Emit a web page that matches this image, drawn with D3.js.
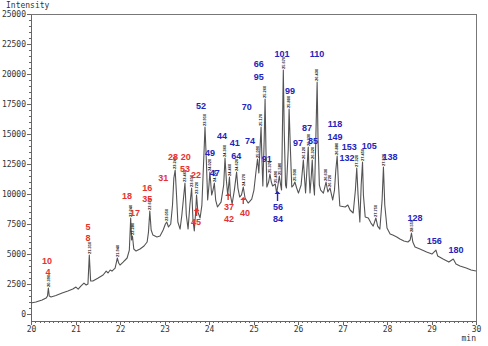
<!DOCTYPE html>
<html>
<head>
<meta charset="utf-8">
<script src="https://cdn.jsdelivr.net/npm/d3@7"></script>
<style>
  body { margin: 0; background: #fff; }
  svg { display: block; }
</style>
</head>
<body>
<div id="chart"></div>
<script>
// chromatogram trace, [time (min), intensity]
var trace = [
  [20.00, 920], [20.11, 1000], [20.25, 1170], [20.34, 1330], [20.37, 1500], [20.39, 2170],
  [20.41, 1500], [20.45, 1420], [20.56, 1540], [20.70, 1750], [20.83, 1920], [20.94, 2080],
  [21.01, 2250], [21.06, 2080], [21.12, 2330], [21.19, 2580], [21.24, 2420], [21.28, 2500],
  [21.31, 4920], [21.34, 2750], [21.39, 2750], [21.51, 3000], [21.62, 3250], [21.69, 3580],
  [21.73, 3420], [21.78, 3670], [21.82, 3580], [21.89, 3830], [21.92, 4330], [21.94, 4670],
  [21.97, 4250], [22.00, 4080], [22.07, 4330], [22.16, 4670], [22.21, 5330], [22.24, 8000],
  [22.26, 6170], [22.28, 6500], [22.31, 5420], [22.36, 5250], [22.45, 5420], [22.54, 5670],
  [22.61, 6000], [22.64, 6830], [22.67, 8580], [22.70, 7000], [22.74, 6580], [22.83, 6420],
  [22.90, 6500], [22.97, 7000], [23.02, 7500], [23.05, 7670], [23.09, 7250], [23.14, 7500],
  [23.18, 9080], [23.21, 11330], [23.24, 12000], [23.27, 9920], [23.30, 7670], [23.35, 7080],
  [23.39, 8250], [23.46, 10920], [23.49, 8250], [23.53, 7080], [23.57, 9080], [23.61, 10500],
  [23.64, 7830], [23.67, 6920], [23.70, 8500], [23.72, 9920], [23.75, 8500], [23.80, 8000],
  [23.84, 9080], [23.89, 13670], [23.91, 15580], [23.94, 12830], [23.97, 9500], [24.00, 10750],
  [24.02, 11830], [24.06, 9920], [24.09, 10330], [24.12, 10920], [24.15, 9500], [24.19, 8920],
  [24.27, 9330], [24.33, 10750], [24.36, 13000], [24.39, 11170], [24.42, 9920], [24.46, 11420],
  [24.48, 9920], [24.52, 9170], [24.57, 10330], [24.62, 11830], [24.65, 10500], [24.69, 9750],
  [24.73, 9920], [24.77, 10580], [24.81, 9670], [24.88, 9250], [24.96, 9580], [25.01, 10330],
  [25.06, 12000], [25.09, 12920], [25.12, 11750], [25.15, 14080], [25.17, 15580], [25.19, 12830],
  [25.21, 10670], [25.24, 14500], [25.26, 17920], [25.28, 13670], [25.30, 10580], [25.34, 11000],
  [25.37, 11670], [25.40, 11000], [25.43, 10670], [25.49, 10830], [25.52, 10080], [25.55, 10750],
  [25.58, 11500], [25.61, 10750], [25.63, 10330], [25.65, 15330], [25.67, 20330], [25.69, 15330],
  [25.72, 10750], [25.74, 10500], [25.78, 13670], [25.80, 17080], [25.83, 13670], [25.86, 10580],
  [25.90, 10750], [25.93, 11000], [25.97, 10500], [26.01, 10080], [26.07, 10750], [26.12, 12830],
  [26.15, 11170], [26.17, 10080], [26.20, 12000], [26.23, 13920], [26.25, 11580], [26.27, 10080],
  [26.30, 11580], [26.32, 12830], [26.34, 11170], [26.37, 9920], [26.40, 14500], [26.43, 19330],
  [26.45, 14500], [26.48, 10750], [26.51, 10330], [26.57, 10080], [26.63, 11000], [26.67, 10170],
  [26.72, 10500], [26.78, 9500], [26.82, 10330], [26.85, 12000], [26.88, 13170], [26.91, 10750],
  [26.94, 9000], [27.06, 8920], [27.12, 9080], [27.17, 8670], [27.24, 8420], [27.29, 10330],
  [27.32, 12170], [27.35, 9920], [27.39, 7670], [27.42, 10750], [27.45, 12670], [27.47, 9920],
  [27.51, 8080], [27.58, 8000], [27.64, 7580], [27.69, 7330], [27.75, 8000], [27.79, 7330],
  [27.84, 7080], [27.89, 9500], [27.92, 12250], [27.95, 9080], [28.00, 7170], [28.07, 6670],
  [28.13, 6580], [28.22, 6420], [28.29, 6250], [28.38, 6080], [28.47, 6000], [28.52, 6170],
  [28.55, 6750], [28.58, 6000], [28.63, 5580], [28.74, 5420], [28.89, 5170], [29.01, 5000],
  [29.10, 5330], [29.14, 4830], [29.26, 4580], [29.39, 4330], [29.49, 4580], [29.55, 4170],
  [29.64, 4000], [29.78, 3830], [29.89, 3670], [30.00, 3580]
];

// retention times printed (vertically) on the peaks
var rtTimes = [20.39, 21.31, 21.94, 22.24, 22.28, 22.67, 23.05, 23.24, 23.46, 23.61, 23.72,
  23.91, 24.02, 24.12, 24.36, 24.46, 24.62, 24.77, 25.09, 25.17, 25.26, 25.37, 25.49, 25.58,
  25.67, 25.80, 25.93, 26.12, 26.23, 26.32, 26.43, 26.63, 26.72, 26.88, 27.32, 27.45, 27.75,
  27.92, 28.55];

// compound numbers: [text, time, intensity]
var redLabels = [
  ["10", 20.36, 4420], ["4", 20.38, 3500], ["5", 21.28, 7250], ["8", 21.28, 6330],
  ["18", 22.16, 9830], ["17", 22.34, 8420], ["16", 22.61, 10500], ["35", 22.61, 9580],
  ["31", 22.97, 11330], ["28", 23.19, 13080], ["20", 23.48, 13080], ["53", 23.46, 12080],
  ["22", 23.71, 11580], ["45", 23.71, 7670], ["37", 24.45, 8920], ["42", 24.45, 7920],
  ["40", 24.81, 8420]
];
var blueLabels = [
  ["52", 23.82, 17330], ["49", 24.02, 13420], ["47", 24.13, 11750], ["44", 24.29, 14830],
  ["41", 24.58, 14250], ["64", 24.61, 13170], ["70", 24.85, 17250], ["74", 24.92, 14420],
  ["66", 25.12, 20830], ["95", 25.12, 19750], ["91", 25.30, 12920], ["56", 25.55, 8920],
  ["84", 25.55, 7920], ["101", 25.64, 21670], ["99", 25.82, 18580], ["97", 26.00, 14250],
  ["87", 26.20, 15500], ["85", 26.34, 14420], ["110", 26.43, 21670], ["118", 26.83, 15830],
  ["149", 26.83, 14750], ["153", 27.15, 13880], ["132", 27.10, 13000], ["105", 27.60, 14000],
  ["138", 28.07, 13080], ["128", 28.63, 8000], ["156", 29.06, 6080], ["180", 29.55, 5330]
];

// small up-arrows: [time, tip intensity, base intensity]
var redArrows = [[23.72, 8830, 8170], [24.43, 10080, 9500], [24.77, 9750, 9170]];
var blueArrows = [[25.54, 10250, 9420]];

var xTicks = [20, 21, 22, 23, 24, 25, 26, 27, 28, 29, 30];
var yTicks = [0, 2500, 5000, 7500, 10000, 12500, 15000, 17500, 20000, 22500, 25000];

var red = "#e6322e", blue = "#2323bd";
var W = 488, H = 346;

var x = d3.scaleLinear().domain([20, 30]).range([31, 476]);
var y = d3.scaleLinear().domain([-580, 25000]).range([321, 14]);

var svg = d3.select("#chart").append("svg")
  .attr("width", W)
  .attr("height", H);

// frame on top and right
svg.append("path")
  .attr("d", "M" + x(20) + "," + y(25000) + "H" + x(30) + "V" + y(-580))
  .attr("fill", "none")
  .attr("stroke", "#777")
  .attr("stroke-width", 1)
  .attr("shape-rendering", "crispEdges");

// minor ticks
var minorY = d3.range(0, 25001, 500).filter(function (d) { return d % 2500 != 0; });
var minorX = d3.range(200, 301, 1).map(function (d) { return d / 10; })
  .filter(function (d) { return Math.abs(d - Math.round(d)) > 0.01; });

svg.append("g")
  .attr("transform", "translate(31,0)")
  .call(d3.axisLeft(y).tickValues(minorY).tickSize(2).tickSizeOuter(0).tickFormat(""));
svg.append("g")
  .attr("transform", "translate(0,321)")
  .call(d3.axisBottom(x).tickValues(minorX).tickSize(2).tickSizeOuter(0).tickFormat(""));

var gy = svg.append("g")
  .attr("transform", "translate(31,0)")
  .call(d3.axisLeft(y).tickValues(yTicks).tickSize(4).tickSizeOuter(0).tickPadding(1)
    .tickFormat(d3.format("d")));
var gx = svg.append("g")
  .attr("transform", "translate(0,321)")
  .call(d3.axisBottom(x).tickValues(xTicks).tickSize(4).tickSizeOuter(0).tickPadding(1.5)
    .tickFormat(d3.format("d")));

svg.selectAll(".domain, .tick line")
  .attr("stroke", "#666")
  .attr("shape-rendering", "crispEdges");
svg.selectAll(".tick text")
  .style("font-family", "'DejaVu Sans Mono', monospace")
  .style("font-size", "8px")
  .attr("fill", "#333");

svg.append("text")
  .attr("x", 6).attr("y", 8)
  .text("Intensity")
  .style("font-family", "'DejaVu Sans Mono', monospace")
  .style("font-size", "8px")
  .attr("fill", "#333");
svg.append("text")
  .attr("x", 476).attr("y", 341)
  .attr("text-anchor", "end")
  .text("min")
  .style("font-family", "'DejaVu Sans Mono', monospace")
  .style("font-size", "8px")
  .attr("fill", "#333");

// the trace
svg.append("path")
  .datum(trace)
  .attr("d", d3.line()
    .x(function (d) { return x(d[0]); })
    .y(function (d) { return y(d[1]); }))
  .attr("fill", "none")
  .attr("stroke", "#545454")
  .attr("stroke-width", 1.1)
  .attr("stroke-linejoin", "round");

// retention time text standing on each peak
function apex(t) {
  var best = trace[0];
  trace.forEach(function (d) { if (Math.abs(d[0] - t) < Math.abs(best[0] - t)) best = d; });
  return best;
}
svg.append("g").selectAll("text")
  .data(rtTimes)
  .enter().append("text")
  .attr("transform", function (d) {
    return "translate(" + (x(d) + 1.3) + "," + (y(apex(d)[1]) - 1) + ") rotate(-90)";
  })
  .text(function (d) { return d.toFixed(3); })
  .style("font-family", "'Liberation Sans', Arial, sans-serif")
  .style("font-size", "4px")
  .style("font-weight", "bold")
  .attr("fill", "#111");

// compound number labels
function drawLabels(list, colour) {
  svg.append("g").selectAll("text")
    .data(list)
    .enter().append("text")
    .attr("x", function (d) { return x(d[1]); })
    .attr("y", function (d) { return y(d[2]); })
    .attr("text-anchor", "middle")
    .attr("dominant-baseline", "central")
    .text(function (d) { return d[0]; })
    .style("font-family", "'Liberation Sans', Arial, sans-serif")
    .style("font-size", "9px")
    .style("font-weight", "bold")
    .attr("fill", colour);
}
drawLabels(redLabels, red);
drawLabels(blueLabels, blue);

function drawArrows(list, colour) {
  var g = svg.append("g");
  list.forEach(function (a) {
    var cx = x(a[0]), tip = y(a[1]), base = y(a[2]);
    g.append("line")
      .attr("x1", cx).attr("x2", cx)
      .attr("y1", tip + 2).attr("y2", base)
      .attr("stroke", colour).attr("stroke-width", 1.4);
    g.append("path")
      .attr("d", "M" + cx + "," + tip + "L" + (cx - 3) + "," + (tip + 3) + "L" + (cx + 3) + "," + (tip + 3) + "Z")
      .attr("fill", colour);
  });
}
drawArrows(redArrows, red);
drawArrows(blueArrows, blue);
</script>
</body>
</html>
